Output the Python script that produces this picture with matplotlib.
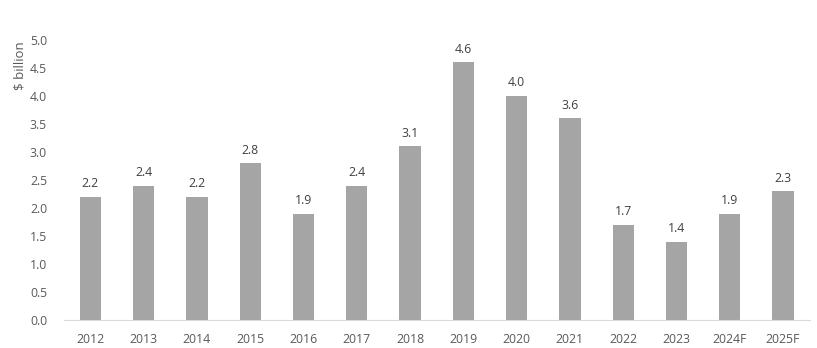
import matplotlib.pyplot as plt

years = ["2012", "2013", "2014", "2015", "2016", "2017", "2018", "2019",
         "2020", "2021", "2022", "2023", "2024F", "2025F"]
values = [2.2, 2.4, 2.2, 2.8, 1.9, 2.4, 3.1, 4.6, 4.0, 3.6, 1.7, 1.4, 1.9, 2.3]
yticks = [0.0, 0.5, 1.0, 1.5, 2.0, 2.5, 3.0, 3.5, 4.0, 4.5, 5.0]

txt = "#595959"
plt.rcParams['font.family'] = ['Open Sans', 'DejaVu Sans']

fig = plt.figure(figsize=(8.17, 3.48), dpi=100)
ax = fig.add_axes([0.078, 0.080, 0.913, 0.805])

bars = ax.bar(years, values, width=0.4, color="#a5a5a5")
for b, v in zip(bars, values):
    ax.text(b.get_x() + b.get_width() / 2, v + 0.12, f"{v:.1f}",
            ha="center", va="bottom", fontsize=8.8, color="#404040")

ax.set_ylim(0, 5.0)
ax.set_xlim(-0.5, len(years) - 0.5)
ax.set_yticks(yticks)
ax.set_yticklabels([f"{t:.1f}" for t in yticks])
ax.tick_params(axis="both", length=0, labelsize=8.8, colors=txt)
ax.tick_params(axis="x", pad=9)
ax.tick_params(axis="y", pad=12)

for s in ["top", "right", "left"]:
    ax.spines[s].set_visible(False)
ax.spines["bottom"].set_color("#d9d9d9")

fig.text(0.024, 0.81, "$ billion", rotation=90, ha="center", va="center",
         fontsize=9.5, color=txt)

fig.savefig("out.png", dpi=100)
